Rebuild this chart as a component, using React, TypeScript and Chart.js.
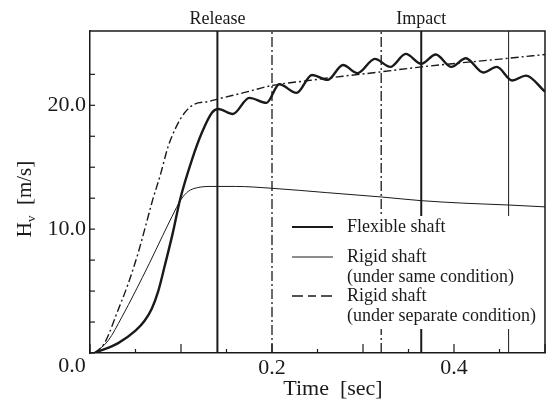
import React, { useEffect, useRef } from "react";
import { Chart, registerables } from "chart.js";
Chart.register(...registerables);

// Flexible shaft (thick)
const flexT = [0.005, 0.031, 0.05, 0.06, 0.068, 0.075, 0.082, 0.091, 0.099, 0.112, 0.123, 0.134, 0.141, 0.157, 0.175, 0.194, 0.208, 0.227, 0.244, 0.261, 0.278, 0.294, 0.313, 0.330, 0.347, 0.364, 0.380, 0.397, 0.413, 0.432, 0.447, 0.464, 0.479, 0.5];
const flexV = [0, 0.8, 1.8, 2.6, 3.6, 5.0, 7.0, 9.7, 12.4, 15.6, 17.8, 19.4, 19.7, 19.3, 20.6, 20.2, 21.7, 21.0, 22.45, 22.05, 23.25, 22.6, 23.75, 23.1, 24.15, 23.35, 24.1, 23.1, 23.8, 22.65, 23.1, 22.0, 22.4, 21.1];

// Rigid shaft (under same condition) (thin)
const sameT = [0.005, 0.02, 0.035, 0.05, 0.065, 0.08, 0.09, 0.1, 0.108, 0.118, 0.135, 0.16, 0.2, 0.26, 0.32, 0.364, 0.41, 0.46, 0.5];
const sameV = [0, 1.0, 2.9, 5.0, 7.2, 9.5, 11.0, 12.4, 13.05, 13.35, 13.45, 13.45, 13.3, 12.95, 12.6, 12.3, 12.1, 11.95, 11.8];

// Rigid shaft (under separate condition) (dash-dot)
const sepT = [0.005, 0.016, 0.031, 0.042, 0.053, 0.062, 0.069, 0.077, 0.086, 0.095, 0.104, 0.115, 0.13, 0.14, 0.168, 0.2, 0.24, 0.278, 0.314, 0.364, 0.46, 0.5];
const sepV = [0, 0.8, 3.5, 5.6, 8.1, 10.5, 12.4, 14.3, 16.7, 18.3, 19.4, 20.1, 20.3, 20.5, 21.0, 21.6, 22.0, 22.35, 22.65, 23.1, 23.8, 24.1];

// Event markers
const releaseT = 0.14;
const impactT = 0.364;
const dashMarkersT = [0.2, 0.32];
const thinMarkerT = 0.46;

const xLabeledTicks = [0.2, 0.4];
const yLabeledTicks = [10, 20];
const originLabel = "0.0";

const legendLabels = ["Flexible shaft", "Rigid shaft", "(under same condition)", "Rigid shaft", "(under separate condition)"];

const X_MIN = 0, X_MAX = 0.5, Y_MIN = 0, Y_MAX = 26;
const INK = "#1a1a1a";
const SERIF = "'Liberation Serif', 'DejaVu Serif', serif";

const pts = (t: number[], v: number[]) => t.map((x, i) => ({ x, y: v[i] }));
const vline = (t: number) => [{ x: t, y: Y_MIN }, { x: t, y: Y_MAX }];
const near = (a: number, list: number[], eps = 1e-6) => list.some((b) => Math.abs(a - b) < eps);

export default function App() {
  const ref = useRef<HTMLCanvasElement | null>(null);
  useEffect(() => {
    document.body.style.margin = "0";
    const canvas = ref.current!;
    const decorPlugin = {
      id: "decor",
      afterDatasetsDraw(chart: any) {
        const { ctx, chartArea: a, scales } = chart;
        const xs = scales.x, ys = scales.y;
        ctx.save();
        ctx.strokeStyle = INK;
        ctx.lineWidth = 1.5;
        // top and right border
        ctx.beginPath();
        ctx.moveTo(a.left, a.top);
        ctx.lineTo(a.right, a.top);
        ctx.lineTo(a.right, a.bottom);
        ctx.stroke();
        // inward tick marks
        ctx.lineWidth = 1.2;
        xs.ticks.forEach((tk: any) => {
          const v = tk.value;
          if (Math.abs(v / 0.05 - Math.round(v / 0.05)) > 1e-6) return;
          const major = Math.abs(v / 0.1 - Math.round(v / 0.1)) < 1e-6;
          const px = xs.getPixelForValue(v);
          ctx.beginPath();
          ctx.moveTo(px, a.bottom);
          ctx.lineTo(px, a.bottom - (major ? 9 : 4));
          ctx.stroke();
        });
        ys.ticks.forEach((tk: any) => {
          const v = tk.value;
          if (Math.abs(v / 2.5 - Math.round(v / 2.5)) > 1e-6) return;
          const py = ys.getPixelForValue(v);
          ctx.beginPath();
          ctx.moveTo(a.left, py);
          ctx.lineTo(a.left + 5, py);
          ctx.stroke();
        });
        // shared origin label
        ctx.fillStyle = INK;
        ctx.font = `22px ${SERIF}`;
        ctx.textAlign = "center";
        ctx.textBaseline = "middle";
        ctx.fillText(originLabel, xs.getPixelForValue(X_MIN) - 18, ys.getPixelForValue(Y_MIN) + 13);
        // event labels
        ctx.font = `18px ${SERIF}`;
        ctx.textAlign = "center";
        ctx.textBaseline = "alphabetic";
        ctx.fillText("Release", xs.getPixelForValue(releaseT), 24);
        ctx.fillText("Impact", xs.getPixelForValue(impactT), 24);
        // legend box
        ctx.fillStyle = "#ffffff";
        ctx.fillRect(286, 216, a.right - 287, 113);
        ctx.fillStyle = INK;
        const rows = [227, 257, 277, 296, 316];
        ctx.textAlign = "left";
        ctx.textBaseline = "middle";
        ctx.font = `18px ${SERIF}`;
        legendLabels.forEach((s, i) => ctx.fillText(s, 347, rows[i]));
        ctx.strokeStyle = INK;
        ctx.lineWidth = 2.2;
        ctx.beginPath(); ctx.moveTo(292, rows[0]); ctx.lineTo(333, rows[0]); ctx.stroke();
        ctx.lineWidth = 1;
        ctx.beginPath(); ctx.moveTo(292, rows[1]); ctx.lineTo(333, rows[1]); ctx.stroke();
        ctx.lineWidth = 1.3;
        ctx.setLineDash([11, 5, 8, 5]);
        ctx.beginPath(); ctx.moveTo(292, rows[3]); ctx.lineTo(334, rows[3]); ctx.stroke();
        ctx.setLineDash([]);
        // x title
        ctx.font = `22px ${SERIF}`;
        ctx.textAlign = "center";
        ctx.textBaseline = "alphabetic";
        ctx.fillText("Time  [sec]", 333, 395);
        // y title (rotated, with subscript)
        ctx.translate(31, 199);
        ctx.rotate(-Math.PI / 2);
        ctx.textAlign = "left";
        const big = `21px ${SERIF}`, small = `13px ${SERIF}`;
        ctx.font = big; const wH = ctx.measureText("H").width;
        ctx.font = small; const wv = ctx.measureText("v").width;
        ctx.font = big; const wR = ctx.measureText("  [m/s]").width;
        let x0 = -(wH + wv + wR) / 2;
        ctx.font = big; ctx.fillText("H", x0, 0); x0 += wH;
        ctx.font = small; ctx.fillText("v", x0, 4); x0 += wv;
        ctx.font = big; ctx.fillText("  [m/s]", x0, 0);
        ctx.restore();
      },
    };

    const chart = new Chart(canvas, {
      type: "line",
      data: {
        datasets: [
          { label: "Rigid shaft (under same condition)", data: pts(sameT, sameV), borderColor: INK, borderWidth: 1, pointRadius: 0, cubicInterpolationMode: "monotone", fill: false },
          { label: "Rigid shaft (under separate condition)", data: pts(sepT, sepV), borderColor: INK, borderWidth: 1.4, borderDash: [8, 3, 2, 3], pointRadius: 0, cubicInterpolationMode: "monotone", fill: false },
          { label: "Flexible shaft", data: pts(flexT, flexV), borderColor: INK, borderWidth: 2.4, pointRadius: 0, cubicInterpolationMode: "monotone", fill: false },
          { label: "Release", data: vline(releaseT), borderColor: INK, borderWidth: 2, pointRadius: 0 },
          { label: "Impact", data: vline(impactT), borderColor: INK, borderWidth: 2, pointRadius: 0 },
          ...dashMarkersT.map((t) => ({ label: "mark", data: vline(t), borderColor: INK, borderWidth: 1.3, borderDash: [10, 3, 2, 3], pointRadius: 0 })),
          { label: "mark", data: vline(thinMarkerT), borderColor: INK, borderWidth: 1, pointRadius: 0 },
        ],
      },
      options: {
        responsive: false,
        animation: false,
        layout: { padding: { top: 31, right: 1, left: 0, bottom: 0 } },
        plugins: { legend: { display: false }, tooltip: { enabled: false } },
        scales: {
          x: {
            type: "linear", min: X_MIN, max: X_MAX,
            grid: { display: false, drawTicks: false, tickLength: 0 },
            border: { display: true, color: INK, width: 1.5 },
            afterFit: (s: any) => { s.height = 48; },
            ticks: {
              stepSize: 0.05, autoSkip: false, maxRotation: 0, padding: 2, color: INK,
              font: { family: SERIF, size: 22 },
              callback: (v: any) => (near(Number(v), xLabeledTicks) ? Number(v).toFixed(1) : ""),
            },
          },
          y: {
            type: "linear", min: Y_MIN, max: Y_MAX,
            grid: { display: false, drawTicks: false, tickLength: 0 },
            border: { display: true, color: INK, width: 1.5 },
            afterFit: (s: any) => { s.width = 90; },
            ticks: {
              stepSize: 2.5, autoSkip: false, padding: 4, color: INK,
              font: { family: SERIF, size: 22 },
              callback: (v: any) => (near(Number(v), yLabeledTicks) ? Number(v).toFixed(1) : ""),
            },
          },
        },
      },
      plugins: [decorPlugin],
    } as any);
    return () => chart.destroy();
  }, []);
  return (
    <div style={{ position: "relative", width: 547, height: 401, background: "#fff" }}>
      <canvas ref={ref} width={547} height={401} style={{ display: "block" }} />
    </div>
  );
}
